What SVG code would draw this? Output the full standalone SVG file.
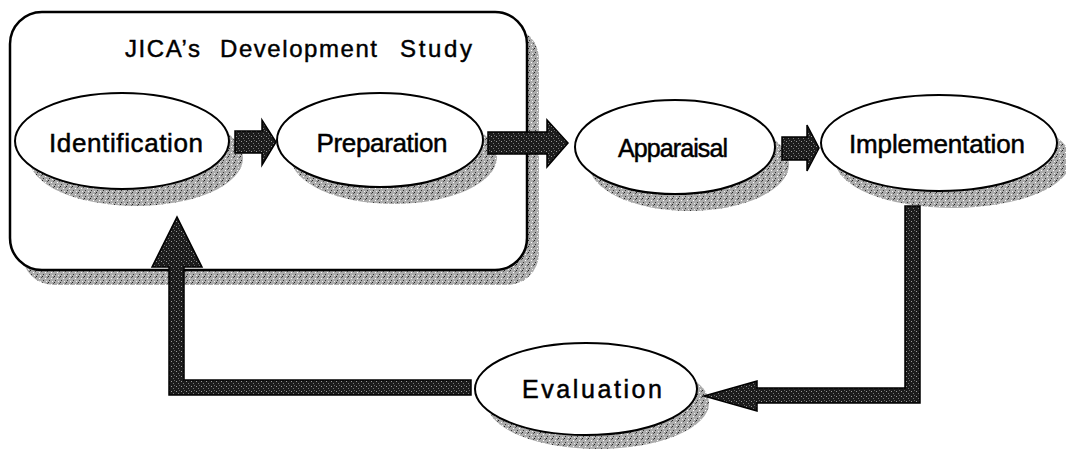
<svg xmlns="http://www.w3.org/2000/svg" width="1066" height="449" viewBox="0 0 1066 449">
  <defs>
    <!-- halftone grey used for drop shadows -->
    <pattern id="shade" width="6" height="6" patternUnits="userSpaceOnUse">
      <rect width="6" height="6" fill="#ababab"/>
      <rect x="0" y="0" width="1" height="1" fill="#222"/>
      <rect x="3" y="2" width="1" height="1" fill="#fff"/>
      <rect x="1" y="4" width="1" height="1" fill="#333"/>
      <rect x="4" y="5" width="1" height="1" fill="#eee"/>
      <rect x="5" y="1" width="1" height="1" fill="#555"/>
    </pattern>
    <!-- dark stipple used for the block arrows -->
    <pattern id="stipple" width="5" height="5" patternUnits="userSpaceOnUse">
      <rect width="5" height="5" fill="#1c1c1c"/>
      <rect x="1" y="1" width="1" height="1" fill="#9a9a9a"/>
      <rect x="3" y="3" width="1" height="1" fill="#777"/>
      <rect x="4" y="0" width="1" height="1" fill="#666"/>
    </pattern>
    <style>
      .shadow { fill: url(#shade); }
      .frame { fill: #fff; stroke: #000; stroke-width: 2.5; }
      .oval { fill: #fff; stroke: #000; stroke-width: 2; }
      .label { font-family: "Liberation Sans", Arial, sans-serif; font-size: 26px; fill: #000; text-anchor: middle; stroke: #000; stroke-width: 0.5; }
      .title { font-family: "Liberation Sans", Arial, sans-serif; font-size: 24px; fill: #000; stroke: #000; stroke-width: 0.45; }
      .arrow { fill: url(#stipple); stroke: #000; stroke-width: 1.5; stroke-linejoin: miter; }
    </style>
  </defs>

  <!-- study boundary -->
  <g id="jica-study">
    <rect class="shadow" x="22" y="27" width="517" height="258" rx="32"/>
    <rect class="frame" x="10" y="12" width="517" height="258" rx="32"/>
    <text class="title" y="57"><tspan x="125" textLength="75">JICA’s</tspan><tspan x="220" textLength="157">Development</tspan><tspan x="400" textLength="72">Study</tspan></text>
  </g>

  <g id="identification">
    <ellipse class="shadow" cx="136" cy="158" rx="107" ry="48"/>
    <ellipse class="oval" cx="122" cy="141" rx="107" ry="48"/>
    <text class="label" x="126" y="152" textLength="154">Identification</text>
  </g>

  <g id="preparation">
    <ellipse class="shadow" cx="394" cy="157" rx="103" ry="47"/>
    <ellipse class="oval" cx="380" cy="140" rx="103" ry="47"/>
    <text class="label" x="382" y="152" textLength="131">Preparation</text>
  </g>

  <g id="apparaisal">
    <ellipse class="shadow" cx="689" cy="164" rx="100" ry="47"/>
    <ellipse class="oval" cx="675" cy="147" rx="100" ry="47"/>
    <text class="label" x="673" y="157" textLength="110" style="font-size:25px">Apparaisal</text>
  </g>

  <g id="implementation">
    <ellipse class="shadow" cx="953" cy="160" rx="118" ry="48"/>
    <ellipse class="oval" cx="939" cy="143" rx="118" ry="48"/>
    <text class="label" x="937" y="153" textLength="176">Implementation</text>
  </g>

  <g id="evaluation">
    <ellipse class="shadow" cx="598" cy="403" rx="111" ry="46"/>
    <ellipse class="oval" cx="586" cy="389" rx="111" ry="46"/>
    <text class="label" x="592" y="398" textLength="140" style="font-size:25px">Evaluation</text>
  </g>

  <!-- block arrows between stages -->
  <g id="connectors">
    <polygon class="arrow" points="235,131 262,131 262,120 276,142 262,165 262,153 235,153"/>
    <polygon class="arrow" points="488,132 547,132 547,120 568,143 547,167 547,154 488,154"/>
    <polygon class="arrow" points="782,137 807,137 807,125 819,148 807,171 807,160 782,160"/>
    <polygon class="arrow" points="905,206 920,206 920,403 757,403 757,411 704,396 757,381 757,388 905,388"/>
    <polygon class="arrow" points="471,380 471,395 169,395 169,267 152,267 177,217 202,267 184,267 184,380"/>
  </g>
</svg>
